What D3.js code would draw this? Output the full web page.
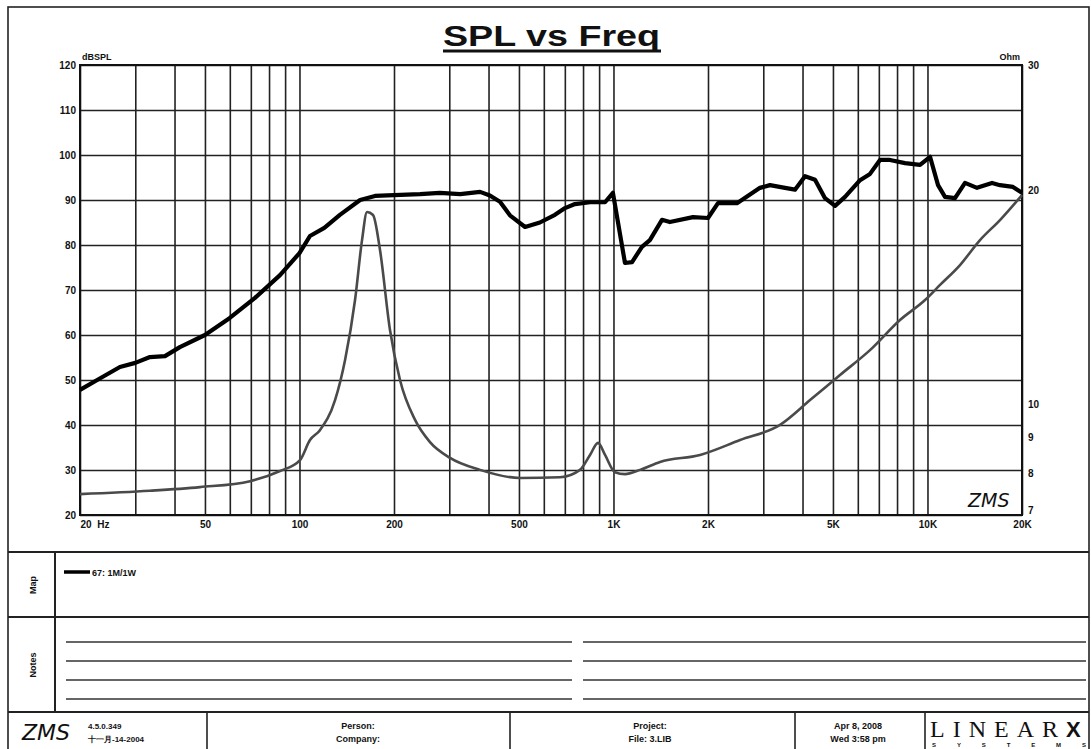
<!DOCTYPE html>
<html>
<head>
<meta charset="utf-8">
<script src="https://cdn.jsdelivr.net/npm/d3@7"></script>
<style>
  body { margin: 0; background: #fff; }
  text { font-family: "Liberation Sans", Arial, sans-serif; font-weight: bold; fill: #111; }
  .tick text { font-size: 10px; }
  .grid line { stroke: #222; stroke-width: 1.6; }
  .grid path { display: none; }
</style>
</head>
<body>
<script>
  // SPL curve (dB)
  var splFreq = [20, 23.2, 26.8, 30, 33.4, 37.3, 41.6, 50, 60, 72, 86.7, 100, 108, 120, 134.5, 156,
                 174, 200, 242, 280, 325, 376, 404, 435, 468, 523, 583, 651, 701, 754, 842, 940,
                 996, 1088, 1146, 1232, 1306, 1427, 1512, 1792, 2000, 2152, 2474, 2928, 3151, 3518,
                 3785, 4074, 4384, 4717, 5077, 5463, 6099, 6561, 7060, 7597, 8482, 9470, 10190,
                 10805, 11372, 12236, 13167, 14380, 16054, 17020, 18720, 20000];
  var splDb = [47.8, 50.4, 52.9, 53.8, 55.1, 55.3, 57.3, 60, 63.8, 68.2, 73.3, 78.2, 82, 83.8, 86.7, 90,
               90.9, 91.1, 91.3, 91.6, 91.3, 91.8, 91, 89.6, 86.6, 84, 85, 86.7, 88.2, 89.1, 89.5, 89.5,
               91.6, 76, 76.2, 79.6, 81.1, 85.6, 85.1, 86.2, 86, 89.3, 89.3, 92.7, 93.3, 92.7,
               92.3, 95.3, 94.5, 90.4, 88.7, 90.7, 94.4, 95.8, 98.9, 98.9, 98.2, 97.8, 99.6,
               93.3, 90.7, 90.4, 93.8, 92.7, 93.8, 93.3, 92.9, 91.6];

  // impedance curve (Ohm)
  var impFreq = [20, 33.4, 48.2, 69.6, 86.7, 100.4, 108, 116.2, 129.8, 139.7, 150.3, 158.2, 164.1, 171.5,
                 180.5, 194.2, 209, 233.4, 260.4, 301.6, 375.8, 503.8, 675.8, 782, 842, 893, 940, 1011,
                 1088, 1215, 1407, 1887, 2530, 3392, 4227, 5266, 6561, 8175, 9823, 10964, 12696,
                 14698, 17020, 20000];
  var impOhm = [7.49, 7.57, 7.66, 7.81, 8.07, 8.36, 8.92, 9.21, 10.15, 11.56, 14.03, 17.03, 18.65, 18.47,
                16.49, 12.73, 10.83, 9.52, 8.86, 8.42, 8.10, 7.89, 7.91, 8.10, 8.50, 8.84, 8.50, 8.04,
                7.99, 8.10, 8.31, 8.50, 8.92, 9.37, 10.15, 11.01, 11.93, 13.15, 14.03, 14.73, 15.71,
                17.03, 18.17, 19.70];

  var xGridValues = [20, 30, 40, 50, 60, 70, 80, 90, 100, 200, 300, 400, 500, 600, 700, 800, 900,
                     1000, 2000, 3000, 4000, 5000, 6000, 7000, 8000, 9000, 10000, 20000];
  var xTickValues = [20, 50, 100, 200, 500, 1000, 2000, 5000, 10000, 20000];
  var xTickLabels = ["20  Hz", "50", "100", "200", "500", "1K", "2K", "5K", "10K", "20K"];
  var yTickValues = [20, 30, 40, 50, 60, 70, 80, 90, 100, 110, 120];
  var ohmTickValues = [7, 8, 9, 10, 20, 30];

  var w = 1091;
  var h = 749;

  var plotLeft = 80, plotRight = 1022, plotTop = 65, plotBottom = 515;

  var svg = d3.select("body").append("svg")
              .attr("width", w)
              .attr("height", h);

  var x = d3.scaleLog().domain([20, 20000]).range([plotLeft, plotRight]);
  var y = d3.scaleLinear().domain([20, 120]).range([plotBottom, plotTop]);
  var yOhm = d3.scaleLog().domain([7, 30]).range([plotBottom, plotTop]);

  // page frame
  svg.append("rect")
     .attr("x", 8).attr("y", 7)
     .attr("width", 1081).attr("height", 760)
     .attr("fill", "none").attr("stroke", "#222").attr("stroke-width", 1.6);

  // title
  svg.append("text")
     .attr("x", 443).attr("y", 46)
     .attr("textLength", 217).attr("lengthAdjust", "spacingAndGlyphs")
     .style("font-size", "29px")
     .text("SPL vs Freq");
  svg.append("line")
     .attr("x1", 443).attr("x2", 661).attr("y1", 51).attr("y2", 51)
     .attr("stroke", "#111").attr("stroke-width", 3);

  // gridlines
  svg.append("g")
     .classed("grid", true)
     .attr("transform", "translate(0," + plotBottom + ")")
     .call(d3.axisBottom(x).tickValues(xGridValues).tickSize(-(plotBottom - plotTop)).tickFormat(""));
  svg.append("g")
     .classed("grid", true)
     .attr("transform", "translate(" + plotLeft + ",0)")
     .call(d3.axisLeft(y).tickValues(yTickValues).tickSize(-(plotRight - plotLeft)).tickFormat(""));

  svg.append("rect")
     .attr("x", plotLeft).attr("y", plotTop)
     .attr("width", plotRight - plotLeft).attr("height", plotBottom - plotTop)
     .attr("fill", "none").attr("stroke", "#111").attr("stroke-width", 2);

  // axes labels
  var yAxis = svg.append("g")
     .attr("transform", "translate(" + (plotLeft - 3) + ",0)")
     .call(d3.axisLeft(y).tickValues(yTickValues).tickSize(0).tickPadding(1));
  yAxis.select(".domain").remove();

  var ohmAxis = svg.append("g")
     .attr("transform", "translate(" + (plotRight + 4) + ",0)")
     .call(d3.axisRight(yOhm).tickValues(ohmTickValues).tickSize(0).tickPadding(2).tickFormat(d3.format("d")));
  ohmAxis.select(".domain").remove();
  ohmAxis.selectAll(".tick").filter(function(d){ return d === 7; })
     .select("text").attr("dy", "-0.2em");

  var xAxis = svg.append("g")
     .attr("transform", "translate(0," + (plotBottom + 4) + ")")
     .call(d3.axisBottom(x).tickValues(xTickValues).tickSize(0).tickPadding(2)
             .tickFormat(function(d, i){ return xTickLabels[i]; }));
  xAxis.select(".domain").remove();
  xAxis.selectAll(".tick").filter(function(d){ return d === 20; })
     .select("text").attr("text-anchor", "start").attr("x", 0).style("white-space", "pre");

  svg.append("text").attr("x", 82).attr("y", 60).style("font-size", "9px").text("dBSPL");
  svg.append("text").attr("x", 1020).attr("y", 60).attr("text-anchor", "end").style("font-size", "9px").text("Ohm");

  // curves
  var splLine = d3.line()
                  .x(function(d, i){ return x(splFreq[i]); })
                  .y(function(d){ return y(d); });
  var ohmLine = d3.line()
                  .x(function(d, i){ return x(impFreq[i]); })
                  .y(function(d){ return yOhm(d); })
                  .curve(d3.curveMonotoneX);

  svg.append("path")
     .datum(impOhm)
     .attr("d", ohmLine)
     .attr("fill", "none").attr("stroke", "#4a4a4a").attr("stroke-width", 2.6)
     .attr("stroke-linejoin", "round");

  svg.append("path")
     .datum(splDb)
     .attr("d", splLine)
     .attr("fill", "none").attr("stroke", "#000").attr("stroke-width", 4.2)
     .attr("stroke-linejoin", "round");

  svg.append("text")
     .attr("x", 968).attr("y", 507)
     .style("font-family", "DejaVu Sans").style("font-style", "italic").style("font-weight", "normal")
     .style("font-size", "19px")
     .text("ZMS");

  // lower panel
  var panel = svg.append("g");
  [552, 617, 712].forEach(function(yy){
    panel.append("line").attr("x1", 8).attr("x2", 1089).attr("y1", yy).attr("y2", yy)
         .attr("stroke", "#222").attr("stroke-width", 2);
  });
  panel.append("line").attr("x1", 55).attr("x2", 55).attr("y1", 552).attr("y2", 712)
       .attr("stroke", "#222").attr("stroke-width", 2);
  [207, 510, 795, 925].forEach(function(xx){
    panel.append("line").attr("x1", xx).attr("x2", xx).attr("y1", 712).attr("y2", 749)
         .attr("stroke", "#222").attr("stroke-width", 1.6);
  });

  panel.append("text").attr("transform", "translate(36,585) rotate(-90)")
       .attr("text-anchor", "middle").style("font-size", "9px").text("Map");
  panel.append("text").attr("transform", "translate(36,665) rotate(-90)")
       .attr("text-anchor", "middle").style("font-size", "9px").text("Notes");

  panel.append("line").attr("x1", 64).attr("x2", 90).attr("y1", 572).attr("y2", 572)
       .attr("stroke", "#000").attr("stroke-width", 3.5);
  panel.append("text").attr("x", 92).attr("y", 576).style("font-size", "9px").text("67: 1M/1W");

  [642, 661, 680, 699].forEach(function(yy){
    panel.append("line").attr("x1", 66).attr("x2", 572).attr("y1", yy).attr("y2", yy)
         .attr("stroke", "#333").attr("stroke-width", 1.4);
    panel.append("line").attr("x1", 583).attr("x2", 1086).attr("y1", yy).attr("y2", yy)
         .attr("stroke", "#333").attr("stroke-width", 1.4);
  });

  // footer
  panel.append("text").attr("x", 22).attr("y", 740)
       .style("font-family", "DejaVu Sans").style("font-style", "italic").style("font-weight", "normal")
       .style("font-size", "22px").text("ZMS");
  panel.append("text").attr("x", 88).attr("y", 729).style("font-size", "8px").text("4.5.0.349");
  panel.append("text").attr("x", 88).attr("y", 742).style("font-size", "8px").text("十一月-14-2004");

  var cells = [
    {cx: 358, a: "Person:", b: "Company:"},
    {cx: 650, a: "Project:", b: "File: 3.LIB"},
    {cx: 858, a: "Apr 8, 2008", b: "Wed 3:58 pm"}
  ];
  cells.forEach(function(c){
    panel.append("text").attr("x", c.cx).attr("y", 729).attr("text-anchor", "middle")
         .style("font-size", "9px").text(c.a);
    panel.append("text").attr("x", c.cx).attr("y", 742).attr("text-anchor", "middle")
         .style("font-size", "9px").text(c.b);
  });

  panel.append("text").attr("x", 930).attr("y", 737)
       .attr("textLength", 128).attr("lengthAdjust", "spacing")
       .style("font-family", "\"Liberation Serif\", serif").style("font-weight", "normal")
       .style("font-size", "24px").text("LINEAR");
  panel.append("text").attr("x", 1066).attr("y", 737)
       .style("font-size", "22px").text("X");
  panel.append("text").attr("x", 932).attr("y", 747)
       .attr("textLength", 154).attr("lengthAdjust", "spacing")
       .style("font-size", "6px").text("SYSTEMS");
</script>
</body>
</html>
